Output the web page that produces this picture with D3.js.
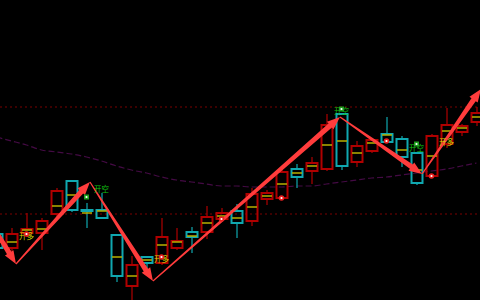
<!DOCTYPE html>
<html><head><meta charset="utf-8">
<script src="https://cdn.jsdelivr.net/npm/d3@7"></script>
<style>html,body{margin:0;padding:0;background:#000;}svg{display:block;}</style>
</head><body>
<svg id="c" width="480" height="300"></svg>
<script>
// candle data (index 0..32), price units
const idx = d3.range(33);
const open  = [66,52,67,67,86,119,90,90,65,14,43,37,52,68,68,81,89,79,101,102,131,129,131,186,138,149,166,161,147,124,156,168,178];
const close = [52,66,71,79,109,90,89,82,24,35,37,63,59,63,83,87,77,106,107,128,123,137,175,134,154,160,158,143,117,164,175,174,187];
const high  = [70,72,87,82,112,119,97,107,65,44,43,82,72,73,94,92,96,112,110,134,136,143,186,186,159,162,183,164,147,166,192,176,193];
const low   = [48,49,63,50,80,88,72,82,18,-5,32,35,50,47,61,79,62,74,95,100,112,116,129,130,133,147,158,133,115,122,152,164,174];
const mid   = [58,58,70,71,94,105,87,89,43,24,40,55,58,64,77,84,82,93,104,116,127,134,155,159,147,157,165,150,130,144,169,172,183];
const ma    = [163,159,155,150,148,146,143,139,134,130,127,123,120,118,116,114,114,113,113,113,114,114,116,118,120,122,123,125,127,129,131,134,137];
const levels = [193, 86];
// zigzag pivots (candle index, price)
const zigI = [-2.5, 1.3, 6.23, 10.43, 22.9, 28.37, 32.3];
const zigP = [129, 36, 118, 19, 183, 126, 211];
// signals
const buyDotI = [2, 11, 15, 19, 26, 29];
const buyDotP = [66, 43, 81, 102, 159, 124];
const sellDotI = [6, 23, 28];
const sellDotP = [103, 191, 156];
const longLabelI = [2, 11, 30];
const longLabelP = [64.5, 41.5, 159];
const shortLabelI = [7, 23, 28];
const shortLabelP = [111.5, 190, 152.5];
const longText = "开多", shortText = "开空";

const W = 480, H = 300;
const svg = d3.select("#c");
svg.append("rect").attr("width", W).attr("height", H).attr("fill", "#000");
const x = d3.scaleLinear().domain([0, 32]).range([-3.5, 476.5]);
const y = d3.scaleLinear().domain([0, 300]).range([300, 0]);

// level lines
svg.selectAll("line.lvl").data(levels).join("line")
  .attr("x1", 0).attr("x2", W).attr("y1", d => y(d)).attr("y2", d => y(d))
  .attr("stroke", "#7a0000").attr("stroke-width", 1).attr("stroke-dasharray", "2,3");

// moving average
svg.append("path").datum(idx)
  .attr("d", d3.line().x(i => x(i)).y(i => y(ma[i])).curve(d3.curveMonotoneX))
  .attr("fill", "none").attr("stroke", "#440a44").attr("stroke-width", 1.2)
  .attr("stroke-dasharray", "6,3");

const RED = "#b00000", TEAL = "#10a8b0", YEL = "#b8b000";
const g = svg.append("g");
idx.forEach(i => {
  const up = close[i] >= open[i];
  const col = up ? RED : TEAL;
  const top = y(Math.max(open[i], close[i])), bot = y(Math.min(open[i], close[i]));
  const cx = Math.round(x(i));
  g.append("line").attr("x1", cx).attr("x2", cx).attr("y1", y(high[i])).attr("y2", top)
    .attr("stroke", col).attr("stroke-width", 1.2);
  g.append("line").attr("x1", cx).attr("x2", cx).attr("y1", bot).attr("y2", y(low[i]))
    .attr("stroke", col).attr("stroke-width", 1.2);
  g.append("rect").attr("x", cx - 5.5).attr("width", 11).attr("y", top)
    .attr("height", Math.max(0.5, bot - top)).attr("fill", "none")
    .attr("stroke", col).attr("stroke-width", 2);
  g.append("line").attr("x1", cx - 5).attr("x2", cx + 5).attr("y1", y(mid[i])).attr("y2", y(mid[i]))
    .attr("stroke", YEL).attr("stroke-width", 1.5);
});

// zigzag arrows
function arrow(x0, y0, x1, y1) {
  const dx = x1 - x0, dy = y1 - y0, L = Math.hypot(dx, dy);
  const ux = dx / L, uy = dy / L, nx = -uy, ny = ux;
  const hl = 13, hw = 5, w0 = 0.6, w1 = 2.6;
  const bx = x1 - ux * hl, by = y1 - uy * hl;
  return [[x0 + nx * w0, y0 + ny * w0], [bx + nx * w1, by + ny * w1], [bx + nx * hw, by + ny * hw],
          [x1, y1], [bx - nx * hw, by - ny * hw], [bx - nx * w1, by - ny * w1], [x0 - nx * w0, y0 - ny * w0]];
}
const segs = d3.range(zigI.length - 1);
svg.selectAll("polygon.arw").data(segs).join("polygon")
  .attr("points", k => arrow(x(zigI[k]), y(zigP[k]), x(zigI[k + 1]), y(zigP[k + 1])).map(p => p.join(",")).join(" "))
  .attr("fill", "#ff3c3c");

// labels
svg.selectAll("text.lng").data(longLabelI).join("text")
  .attr("x", i => x(i)).attr("y", (i, k) => y(longLabelP[k]))
  .attr("text-anchor", "middle").attr("dominant-baseline", "central")
  .attr("font-family", "'Noto Sans CJK SC', sans-serif").attr("font-size", 7.5)
  .attr("fill", "#d8d800").text(longText);
svg.selectAll("text.sht").data(shortLabelI).join("text")
  .attr("x", i => x(i)).attr("y", (i, k) => y(shortLabelP[k]))
  .attr("text-anchor", "middle").attr("dominant-baseline", "central")
  .attr("font-family", "'Noto Sans CJK SC', sans-serif").attr("font-size", 7.5)
  .attr("fill", "#10c010").text(shortText);

// signal dots
buyDotI.forEach((i, k) => {
  const cx = x(i), cy = y(buyDotP[k]);
  svg.append("circle").attr("cx", cx).attr("cy", cy).attr("r", 2.8).attr("fill", "#e82020");
  svg.append("circle").attr("cx", cx).attr("cy", cy).attr("r", 1.1).attr("fill", "#fff");
});
sellDotI.forEach((i, k) => {
  const cx = x(i), cy = y(sellDotP[k]);
  svg.append("rect").attr("x", cx - 2.5).attr("y", cy - 2.5).attr("width", 5).attr("height", 5).attr("fill", "#1fa01f");
  svg.append("circle").attr("cx", cx).attr("cy", cy).attr("r", 1.1).attr("fill", "#fff");
});
</script>
</body></html>
